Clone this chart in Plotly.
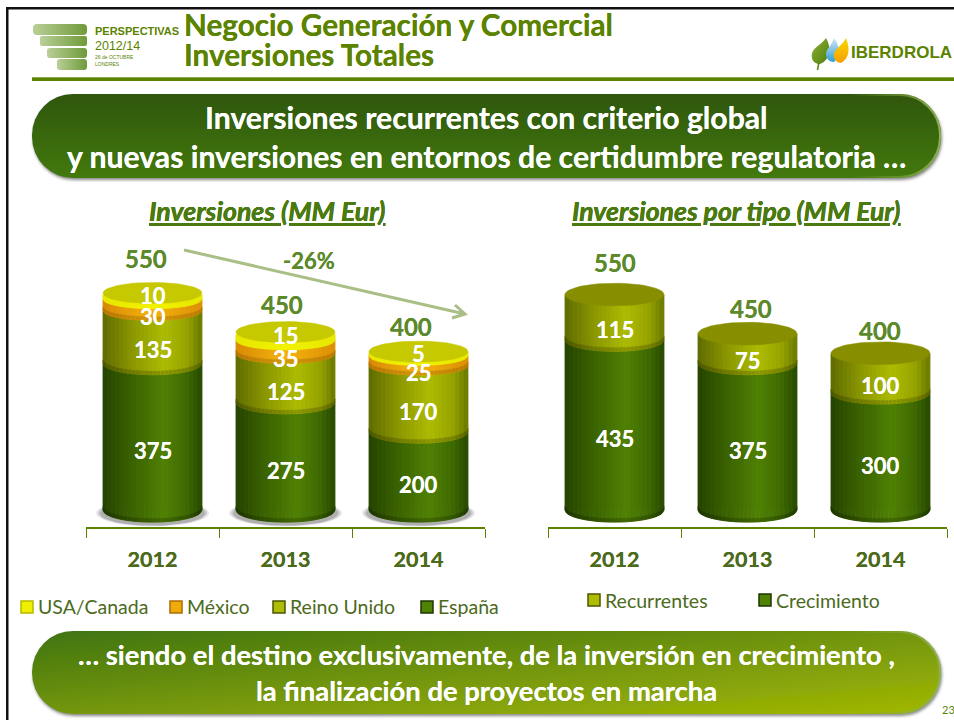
import base64
import math
import plotly.graph_objects as go

W, H = 954, 720
FONT = "Lato"
GREEN = "#5b8300"
TXT = "#4f7a12"

# ---------- data ----------
years = ["2012", "2013", "2014"]
espana = [375, 275, 200]
reino_unido = [135, 125, 170]
mexico = [30, 35, 25]
usa_canada = [10, 15, 5]
crecimiento = [435, 375, 300]
recurrentes = [115, 75, 100]

# ---------- styles ----------
DARK = [(0, "#264400"), (.3, "#3c6402"), (.62, "#508205"), (.85, "#3f6a03"), (1, "#284a00")]
OLIVE = [(0, "#5f6c00"), (.3, "#8c9800"), (.62, "#aebc04"), (.85, "#96a400"), (1, "#6c7a00")]
ORANGE = [(0, "#d88a06"), (.5, "#f6b40e"), (1, "#dc9006")]
YELLOW = [(0, "#e8e800"), (.5, "#f2f200"), (1, "#e8e800")]
# name, values, colour stops, label shift, lip darkness, ellipse half height (value units)
left_series = [("España", espana, DARK, -14, .8, 31), ("Reino Unido", reino_unido, OLIVE, -13, .8, 29),
               ("México", mexico, ORANGE, -12, .85, 25), ("USA/Canada", usa_canada, YELLOW, 1, 1, 25)]
right_series = [("Crecimiento", crecimiento, DARK, -14, .8, 31), ("Recurrentes", recurrentes, OLIVE, -12, .8, 29)]

# ---------- plot geometry ----------
Y_MIN, Y_MAX = -43.5, 690.5
BAR_W = 0.745
N_STRIP = 24


def px(x, y):
    return x / W, 1 - y / H


def hex2rgb(c):
    return [int(c[i:i + 2], 16) for i in (1, 3, 5)]


def grad(stops, t, k=1.0):
    for (a, ca), (b, cb) in zip(stops, stops[1:]):
        if t <= b:
            u = (t - a) / (b - a)
            ra, rb = hex2rgb(ca), hex2rgb(cb)
            return "rgb(%d,%d,%d)" % tuple(k * (ra[i] + (rb[i] - ra[i]) * u) for i in range(3))
    return stops[-1][1]


def curve(u):
    return math.sqrt(max(0.0, 1 - (2 * u - 1) ** 2))


fig = go.Figure()


def strip_xy(pos, lo, hi, u0, u1, ry, lip_only=False):
    """one vertical slice of a rounded stack segment, lo/hi are data values"""
    xs, ys = [], []
    w = BAR_W
    us = [u0 + (u1 - u0) * j / 3 for j in range(4)]
    for u in us:
        xs.append(pos - w / 2 + w * u)
        ys.append(hi if not lip_only else lo - ry * curve(u) + 9)
    for u in reversed(us):
        xs.append(pos - w / 2 + w * u)
        ys.append(lo - ry * curve(u))
    xs.append(xs[0]); ys.append(ys[0])
    return xs, ys


def draw_chart(series, xa, ya, top_disc, shadow, disc_up, disc_ry):
    n = len(series[0][1])
    # real stacked bars
    for s_ in series:
        name, vals, stops = s_[:3]
        fig.add_trace(go.Bar(x=list(range(n)), y=vals, name=name, width=BAR_W,
                             marker=dict(color=grad(stops, .5), line_width=0),
                             xaxis=xa, yaxis=ya, showlegend=False, hoverinfo="skip"))
    totals = [sum(s[1][k] for s in series) for k in range(n)]
    if shadow:
        for grow, alpha in ((1.14, .14), (1.10, .2), (1.06, .25)):
            xs, ys = [], []
            for k in range(n):
                for a in range(0, 49):
                    t = a / 48 * 2 * math.pi
                    xs.append(k + BAR_W / 2 * grow * math.cos(t))
                    ys.append(-8 + 30 * grow * math.sin(t))
                xs.append(None); ys.append(None)
            fig.add_trace(go.Scatter(x=xs, y=ys, fill="toself", mode="lines", line_width=0,
                                     fillcolor="rgba(90,90,90,%.2f)" % alpha, xaxis=xa, yaxis=ya,
                                     showlegend=False, hoverinfo="skip"))
    base = [0] * n
    for name, vals, stops, _, lipk, ry in series:
        for s in range(N_STRIP):
            u0, u1 = s / N_STRIP, (s + 1) / N_STRIP
            col = grad(stops, (u0 + u1) / 2)
            xs, ys, lx, ly = [], [], [], []
            for k in range(n):
                lo, hi = base[k], base[k] + vals[k]
                a, b = strip_xy(k, lo, hi, u0, u1, ry)
                xs += a + [None]; ys += b + [None]
                a, b = strip_xy(k, lo, hi, u0, u1, ry, lip_only=True)
                lx += a + [None]; ly += b + [None]
            fig.add_trace(go.Scatter(x=xs, y=ys, fill="toself", mode="lines", fillcolor=col,
                                     line=dict(color=col, width=.7), xaxis=xa, yaxis=ya,
                                     showlegend=False, hoverinfo="skip"))
            dark = grad(stops, (u0 + u1) / 2, lipk)
            fig.add_trace(go.Scatter(x=lx, y=ly, fill="toself", mode="lines", fillcolor=dark,
                                     line=dict(color=dark, width=.5), xaxis=xa, yaxis=ya,
                                     showlegend=False, hoverinfo="skip"))
        base = [b + v for b, v in zip(base, vals)]
    # top faces
    xs, ys = [], []
    for k in range(n):
        for a in range(0, 61):
            t = a / 60 * 2 * math.pi
            xs.append(k + BAR_W / 2 * math.cos(t))
            ys.append(totals[k] + disc_up + disc_ry * math.sin(t))
        xs.append(None); ys.append(None)
    fig.add_trace(go.Scatter(x=xs, y=ys, fill="toself", mode="lines", fillcolor=top_disc,
                             line=dict(color=top_disc, width=.5), xaxis=xa, yaxis=ya,
                             showlegend=False, hoverinfo="skip"))
    # value labels
    base = [0] * n
    for s_ in series:
        name, vals, stops, shift = s_[:4]
        for k in range(n):
            fig.add_annotation(x=k, y=base[k] + vals[k] / 2, xref=xa, yref=ya, text="<b>%d</b>" % vals[k],
                               showarrow=False, yshift=shift,
                               font=dict(family=FONT, size=22, color="white", shadow="0 0 0.6px white"))
        base = [b + v for b, v in zip(base, vals)]
    return totals


tl = draw_chart(left_series, "x", "y", "#c6c800", True, 5, 27)
tr = draw_chart(right_series, "x2", "y2", "#878f00", False, 1, 29)

# totals above the stacks
for xa, ya, tot, shifts in (("x", "y", tl, [(-7, 36), (-4, 30), (-8, 27)]),
                            ("x2", "y2", tr, [(0, 32), (3, 26), (-1, 23)])):
    for k, v in enumerate(tot):
        fig.add_annotation(x=k, y=v, xref=xa, yref=ya, text="<b>%d</b>" % v, showarrow=False,
                           xshift=shifts[k][0], yshift=shifts[k][1],
                           font=dict(family=FONT, size=24, color="#5c8a2a", shadow="0 0 0.6px #5c8a2a"))

axis_common = dict(range=[-.5, 2.5], tickmode="array", tickvals=[0, 1, 2], ticktext=["<b>%s</b>" % y for y in years],
                   ticklen=0, showgrid=False, zeroline=False, showline=True, linecolor=GREEN, linewidth=2,
                   tickfont=dict(family=FONT, size=21.5, color="#4c6a1c", shadow="0 0 0.6px #4c6a1c"), ticklabelstandoff=12,
                   minor=dict(tickmode="array", tickvals=[-.5, .5, 1.5, 2.5], ticklen=9, ticks="outside",
                              tickcolor=GREEN, tickwidth=1, showgrid=False))
y_common = dict(range=[Y_MIN, Y_MAX], visible=False, showgrid=False, zeroline=False)

# ---------- decoration drawn as one background picture ----------
svg = f'''<svg xmlns="http://www.w3.org/2000/svg" width="{W}" height="{H}" viewBox="0 0 {W} {H}">
<defs>
<linearGradient id="t" x1="0" y1="0" x2="0" y2="1"><stop offset="0" stop-color="#2f5609"/><stop offset="1" stop-color="#43790f"/></linearGradient>
<linearGradient id="b" x1="0" y1="0" x2="1" y2="1"><stop offset="0" stop-color="#3f7412"/><stop offset=".55" stop-color="#78990f"/><stop offset="1" stop-color="#a2b800"/></linearGradient>
<linearGradient id="r" x1="0" y1="0" x2="1" y2="0"><stop offset=".9" stop-color="#7fa23a" stop-opacity="0"/><stop offset="1" stop-color="#8fb050"/></linearGradient>
<linearGradient id="p" x1="0" y1="0" x2="1" y2="0"><stop offset="0" stop-color="#b9cf97"/><stop offset="1" stop-color="#6f9a3a"/></linearGradient>
<linearGradient id="lg" x1="0" y1="0" x2="1" y2="1"><stop offset="0" stop-color="#8fb030"/><stop offset="1" stop-color="#4f7f10"/></linearGradient>
<linearGradient id="lb" x1="0" y1="0" x2="0" y2="1"><stop offset="0" stop-color="#d5e6f0"/><stop offset="1" stop-color="#2c9fd8"/></linearGradient>
<linearGradient id="ly" x1="0" y1="0" x2="0" y2="1"><stop offset="0" stop-color="#f8d800"/><stop offset="1" stop-color="#f5a000"/></linearGradient>
<filter id="s" x="-5%" y="-20%" width="110%" height="140%"><feDropShadow dx="1" dy="2" stdDeviation="1.5" flood-color="#555" flood-opacity=".7"/></filter>
</defs>
<rect x="6" y="7" width="950" height="2.5" fill="#111"/>
<rect x="6" y="7" width="2.5" height="720" fill="#111"/>
<rect x="32" y="77.3" width="922" height="3.7" fill="{GREEN}"/>
<rect x="33" y="24" width="54" height="11" rx="4" fill="url(#p)"/>
<rect x="40" y="36" width="47" height="10" rx="2" fill="url(#p)"/>
<rect x="47" y="48" width="40" height="10" rx="3" fill="url(#p)"/>
<rect x="57" y="59" width="30" height="11" rx="3" fill="url(#p)"/>
<rect x="32" y="94" width="909" height="84" rx="41" fill="url(#t)" filter="url(#s)"/>
<rect x="33" y="95" width="907" height="82" rx="40" fill="none" stroke="url(#r)" stroke-width="2"/>
<rect x="32" y="631" width="909" height="83" rx="41" fill="url(#b)" filter="url(#s)"/>
<rect x="33" y="632" width="907" height="81" rx="40" fill="none" stroke="url(#r)" stroke-width="2"/>
<path d="M826 38 C832 48 830 60 820 64 C812 64 810 56 813 51 C816 46 822 44 826 38 Z" fill="url(#lg)"/>
<path d="M819 62 L817.5 70" stroke="#5f8a10" stroke-width="1.5"/>
<path d="M834 38 C840 46 841 56 834 62 C828 62 824 56 827 50 C830 46 832 43 834 38 Z" fill="url(#lb)"/>
<path d="M846 38 C850 48 850 58 841 63 C834 62 832 56 835 51 C839 46 843 44 846 38 Z" fill="url(#ly)"/>
<path d="M184 250 L465 314 M455 305 L465 314 L452 318" fill="none" stroke="#a9bf85" stroke-width="3"/>
</svg>'''
uri = "data:image/svg+xml;base64," + base64.b64encode(svg.encode()).decode()
fig.add_layout_image(source=uri, xref="paper", yref="paper", x=0, y=1, sizex=1, sizey=1,
                     xanchor="left", yanchor="top", sizing="stretch", layer="below")


def text(x, y, s, size, color, anchor="center", family=FONT, heavy=True, **fontkw):
    a, b = px(x, y)
    if heavy:
        fontkw["shadow"] = "0 0 0.6px " + color
    fig.add_annotation(x=a, y=b, xref="paper", yref="paper", text=s, showarrow=False, xanchor=anchor,
                       yanchor="middle", font=dict(family=family, size=size, color=color, **fontkw))


text(182, 25, "<b>Negocio Generación y Comercial</b>", 29.7, GREEN, "left")
text(182, 55, "<b>Inversiones Totales</b>", 29.7, GREEN, "left")
SANS = "Liberation Sans"
text(93, 31, "<b>PERSPECTIVAS</b>", 11, GREEN, "left", SANS, False)
text(93, 46, "2012/14", 12.5, GREEN, "left", SANS, False)
text(93, 57, "26 de OCTUBRE", 5, GREEN, "left", SANS, False)
text(93, 64, "LONDRES", 5, GREEN, "left", SANS, False)
text(849, 53, "<b>IBERDROLA</b>", 17, GREEN, "left", SANS, False)
text(940, 709, "23", 11, GREEN, "left", FONT, False)

text(486, 117, "<b>Inversiones recurrentes con criterio global</b>", 30.2, "white")
text(486, 156, "<b>y nuevas inversiones en entornos de certidumbre regulatoria …</b>", 30.2, "white")
text(487, 654, "<b>… siendo el destino exclusivamente, de la inversión en crecimiento ,</b>", 27.4, "white")
text(487, 690, "<b>la finalización de proyectos en marcha</b>", 27.4, "white")

text(267, 211, "<b><i>Inversiones (MM Eur)</i></b>", 26.7, "#4a7a10", lineposition="under")
text(736, 211, "<b><i>Inversiones por tipo (MM Eur)</i></b>", 26.6, "#4a7a10", lineposition="under")
text(309, 260, "<b>-26%</b>", 22, "#5c8a2a")

legend_left = [("USA/Canada", 21, YELLOW), ("México", 170, ORANGE), ("Reino Unido", 273, OLIVE), ("España", 421, DARK)]
legend_right = [("Recurrentes", 588, OLIVE), ("Crecimiento", 759, DARK)]
shapes = []
for items, yc, ty in ((legend_left, 607, 606), (legend_right, 600, 600)):
    for name, x0, stops in items:
        x1 = x0 + 12
        a0, b0 = px(x0, yc - 6)
        a1, b1 = px(x1, yc + 6)
        shapes.append(dict(type="rect", xref="paper", yref="paper", x0=a0, x1=a1, y0=b0, y1=b1,
                           fillcolor=grad(stops, .62), line=dict(color=grad(stops, 0, .8), width=1.5)))
        text(x1 + 3, ty, name, 19.5, "#4c6a1c", "left", FONT, False)

fig.update_layout(
    width=W, height=H, margin=dict(l=0, r=0, t=0, b=0), barmode="stack",
    paper_bgcolor="white", plot_bgcolor="rgba(0,0,0,0)", showlegend=False, shapes=shapes,
    xaxis=dict(domain=[86 / W, 485 / W], anchor="y", **axis_common),
    yaxis=dict(domain=[1 - 527 / H, 1 - 240 / H], anchor="x", **y_common),
    xaxis2=dict(domain=[548 / W, 947 / W], anchor="y2", **axis_common),
    yaxis2=dict(domain=[1 - 527 / H, 1 - 240 / H], anchor="x2", **y_common),
)
fig.write_html("out.html", config=dict(displayModeBar=False),
               post_script="document.body.style.margin='0';document.body.style.overflow='hidden';")
